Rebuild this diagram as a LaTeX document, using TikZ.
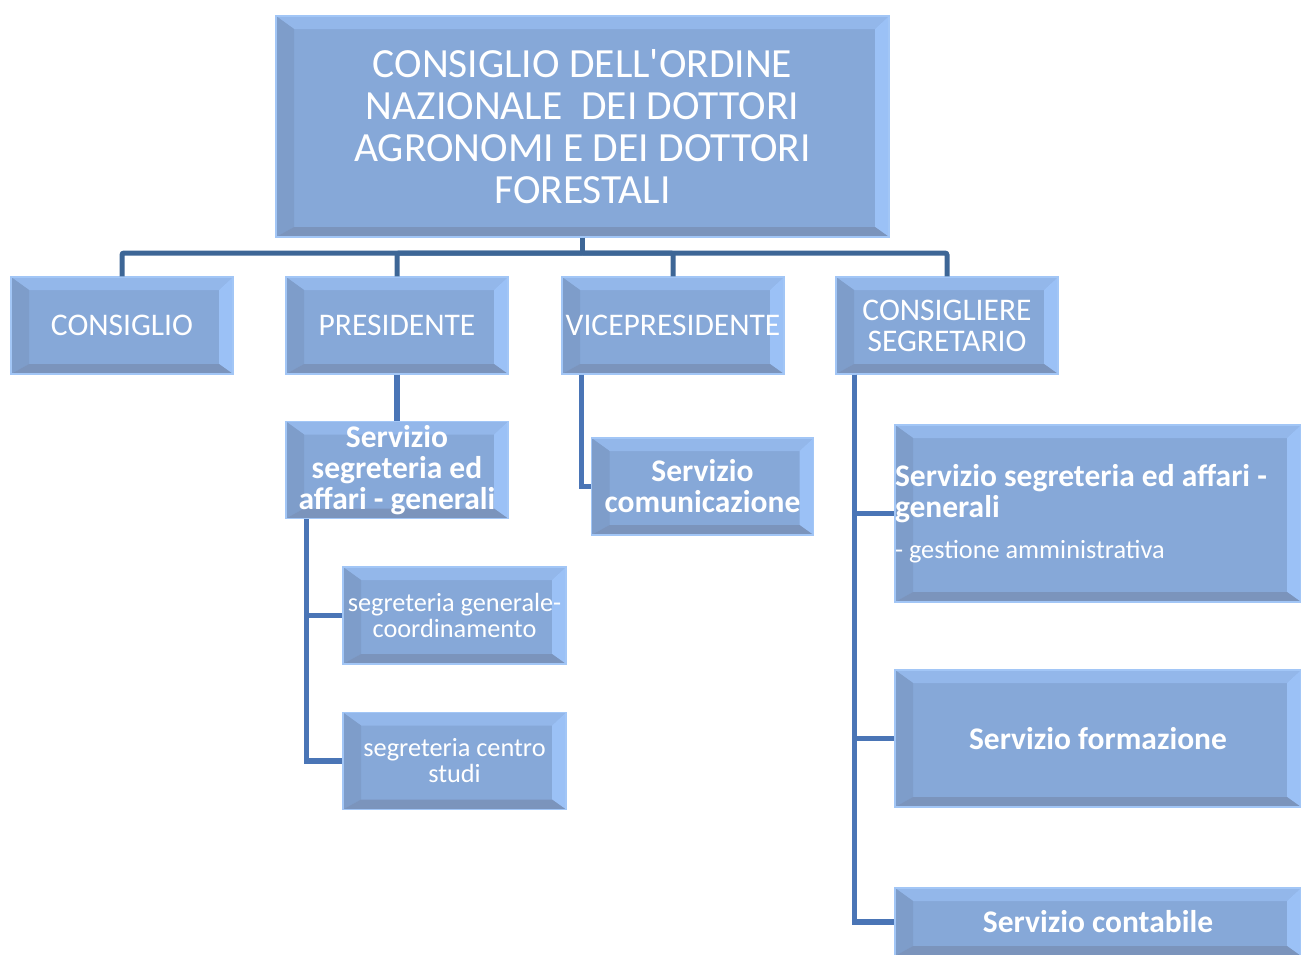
\documentclass[tikz,border=0pt]{standalone}
\usepackage{fontspec}
\setmainfont{Carlito}[Ligatures=TeXOff]
\usetikzlibrary{positioning}

\definecolor{boxfill}{HTML}{86A8D8}
\definecolor{bevtop}{HTML}{93B7EA}
\definecolor{bevleft}{HTML}{7E9DCA}
\definecolor{bevright}{HTML}{9BC1F6}
\definecolor{bevbottom}{HTML}{7B94BC}
\definecolor{boxedge}{HTML}{A2C6F6}
\definecolor{linktop}{HTML}{3D6696}
\definecolor{linksub}{HTML}{4A75B6}

\newcommand\fontTop{\fontsize{41.5}{42}\selectfont}
\newcommand\fontMid{\fontsize{31.5}{31}\selectfont}
\newcommand\fontLow{\fontsize{26.3}{26}\selectfont}

\begin{document}
\begin{tikzpicture}[
  x=1pt, y=-1pt,
  orgbox/.style = {rectangle, fill=boxfill, draw=boxedge, line width=1.2pt,
                   text=white, align=center, inner sep=0pt,
                   path picture={
                     \coordinate (bnw) at (path picture bounding box.north west);
                     \coordinate (bne) at (path picture bounding box.north east);
                     \coordinate (bsw) at (path picture bounding box.south west);
                     \coordinate (bse) at (path picture bounding box.south east);
                     \fill[bevtop]    (bnw) -- (bne) -- ([shift={(-14pt,-13pt)}]bne) -- ([shift={(18pt,-13pt)}]bnw) -- cycle;
                     \fill[bevleft]   (bnw) -- (bsw) -- ([shift={(18pt,10pt)}]bsw) -- ([shift={(18pt,-13pt)}]bnw) -- cycle;
                     \fill[bevright]  (bne) -- (bse) -- ([shift={(-14pt,10pt)}]bse) -- ([shift={(-14pt,-13pt)}]bne) -- cycle;
                     \fill[bevbottom] (bsw) -- (bse) -- ([shift={(-14pt,10pt)}]bse) -- ([shift={(18pt,10pt)}]bsw) -- cycle;
                   }},
  topbox/.style = {orgbox, minimum width=613pt, minimum height=221pt, font=\fontTop},
  rolebox/.style = {orgbox, minimum width=222pt, minimum height=97pt, font=\fontMid},
  servbox/.style = {orgbox, minimum width=222pt, minimum height=97pt, font=\fontMid\bfseries},
  unitbox/.style = {orgbox, minimum width=223pt, minimum height=97pt, font=\fontLow},
  widebox/.style = {orgbox, minimum width=406pt, font=\fontMid\bfseries},
  linkA/.style = {draw=linktop, line width=5pt, rounded corners=2pt},
  linkB/.style = {draw=linksub, line width=5.5pt},
]
\useasboundingbox (0,0) rectangle (1301,954);

% ---- vertice ---------------------------------------------------------------
\node[topbox] (ordine) at (582.5,126.5)
  {CONSIGLIO DELL'ORDINE\\NAZIONALE\ \ DEI DOTTORI\\AGRONOMI E DEI DOTTORI\\FORESTALI};

% ---- cariche ---------------------------------------------------------------
\node[rolebox] (consiglio)  at (122,325.5) {CONSIGLIO};
\node[rolebox] (presidente) at (397,325.5) {PRESIDENTE};
\node[rolebox] (vice)       at (673,325.5) {VICEPRESIDENTE};
\node[rolebox] (segretario) at (947,325.5) {CONSIGLIERE\\SEGRETARIO};

\coordinate (bus) at (582.5,253);
\draw[linkA] (ordine.south) -- (bus);
\draw[linkA] (consiglio.north) |- (bus) -| (segretario.north);
\draw[linkA] (presidente.north) |- (bus);
\draw[linkA] (vice.north) |- (bus);

% ---- ramo presidente -------------------------------------------------------
\node[servbox] (segpres) at (397,470)   {Servizio\\segreteria ed\\affari - generali};
\node[unitbox] (seggen)  at (454.5,615.5) {segreteria generale-\\coordinamento};
\node[unitbox] (centro)  at (454.5,761)   {segreteria centro\\studi};

\draw[linkB] (presidente.south) -- (segpres.north);
\draw[linkB] ([xshift=21pt]segpres.south west) |- (seggen.west);
\draw[linkB] ([xshift=21pt]segpres.south west) |- (centro.west);

% ---- ramo vicepresidente ---------------------------------------------------
\node[servbox] (comunic) at (702.5,486.5) {Servizio\\comunicazione};
\draw[linkB] ([xshift=20pt]vice.south west) |- (comunic.west);

% ---- ramo segretario -------------------------------------------------------
\node[widebox, minimum height=177pt, text width=406pt, align=flush left] (segaff) at (1098,513.5)
  {Servizio segreteria ed affari -\\generali\\[10pt]{\fontLow\mdseries - gestione amministrativa}};
\node[widebox, minimum height=137pt] (formaz)   at (1098,738.5) {Servizio formazione};
\node[widebox, minimum height=68pt]  (contab)   at (1098,922)   {Servizio contabile};

\draw[linkB] ([xshift=19pt]segretario.south west) |- (segaff.west);
\draw[linkB] ([xshift=19pt]segretario.south west) |- (formaz.west);
\draw[linkB] ([xshift=19pt]segretario.south west) |- (contab.west);

\end{tikzpicture}
\end{document}
